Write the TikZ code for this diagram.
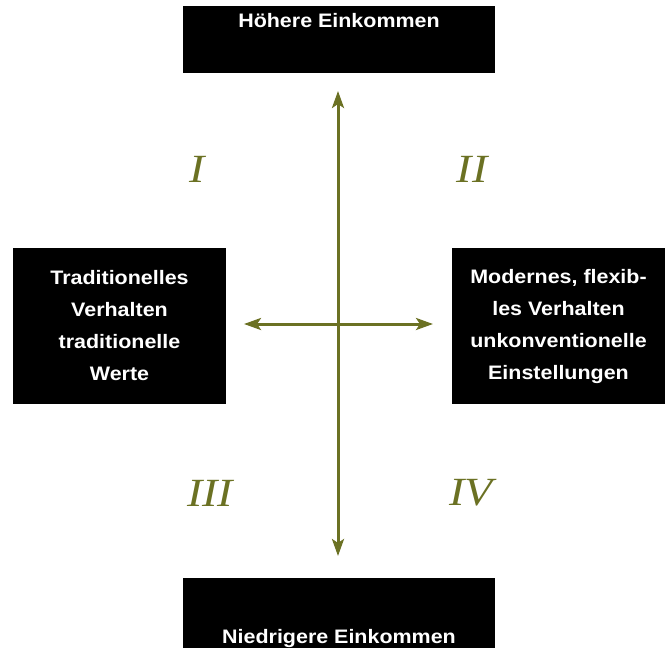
\documentclass[tikz,border=0pt]{standalone}
\usepackage{fontspec}
\setmainfont{Liberation Sans}[FakeStretch=1.1]
\newfontfamily\romfont{Liberation Serif}[FakeStretch=1.15]
\usepackage{tikz}
\usetikzlibrary{arrows.meta,positioning}
\usepackage{xcolor}
\definecolor{axolive}{HTML}{6B7123}

\begin{document}
\begin{tikzpicture}[
  x=1pt, y=-1pt,
  outer sep=0pt,
  box/.style={
    rectangle, draw=none, fill=black, inner sep=0pt, align=center,
    text=white, font=\fontsize{19.5}{32}\selectfont\bfseries
  },
  quad/.style={
    text=axolive, inner sep=0pt,
    font=\fontsize{40}{40}\selectfont\romfont\itshape
  },
  axis/.style={{Stealth[length=17pt, width=12pt, inset=4pt]}-{Stealth[length=17pt, width=12pt, inset=4pt]},
    line width=3pt, color=axolive},
]
  \useasboundingbox (0,0) rectangle (667,648);

  % Top and bottom: income
  \node[box, anchor=north, minimum width=312, text height=21.7, text depth=45.3] (high) at (339,6) {H\"ohere Einkommen};
  \node[box, anchor=north, minimum width=312, text height=65, text depth=8] (low) at (339,578) {Niedrigere Einkommen};

  % Left and right: behaviour
  \node[box, minimum width=213, minimum height=156] (trad) at (119.5,326) {Traditionelles\\Verhalten\\traditionelle\\Werte};
  \node[box, minimum width=213, minimum height=156] (mod) at (558.5,326) {Modernes, flexib-\\les Verhalten\\unkonventionelle\\Einstellungen};

  % Axis ends
  \coordinate (up) at (338,91);
  \coordinate (down) at (338,556);
  \coordinate (left) at (244,324);
  \coordinate (right) at (433,324);

  % Quadrants
  \node[quad] (q1) at (197,169) {I};
  \node[quad] (q2) at (472,169) {II};
  \node[quad] (q3) at (210,493) {III};
  \node[quad] (q4) at (471,493) {IV};

  % Axes
  \draw[axis] (down) -- (up);
  \draw[axis] (left) -- (right);
\end{tikzpicture}
\end{document}
